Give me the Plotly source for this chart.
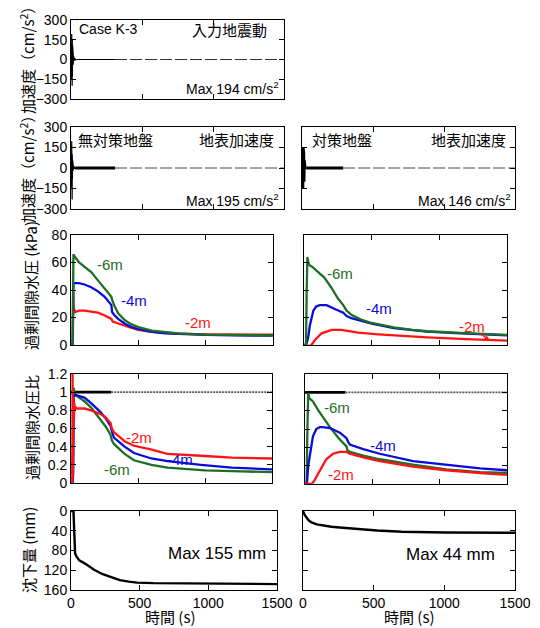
import plotly.graph_objects as go

W, H = 540, 628

# ---------------- data ----------------
# Row 1: input motion (cm/s2)
acc_in_t = [0, 1, 2, 3, 4, 5, 6, 7, 8, 9, 10, 11, 12, 13, 14, 15, 16, 17, 18, 19, 20, 22, 24, 26, 28, 30, 33, 36, 40]
acc_in_v = [0, 40, -70, 120, -150, 194, -185, 170, -200, 150, -130, 110, -90, 80, -60, 50, -40, 30, -25, 20, -15, 10, -8, 6, -5, 4, -3, 2, 0]
acc_in_near_t = [40, 310]
acc_in_far_t = [310, 1500]

# Row 2: surface acceleration (cm/s2)
acc_L_t = [0, 1, 2, 3, 4, 5, 6, 7, 8, 9, 10, 11, 12, 13, 14, 15, 16, 18, 20, 22, 24, 26, 28, 30]
acc_L_v = [0, 30, -60, 100, -140, 195, -150, 120, -230, 100, -80, 60, -50, 40, -30, 25, -20, 15, -10, 8, -6, 5, -3, 0]
acc_L_near_t = [30, 310]
acc_L_far_t = [310, 1500]
acc_R_t = [0, 3, 4, 6, 8, 10, 12, 14, 16, 18, 20, 22, 24, 26, 28, 30]
acc_R_v = [0, 146, -146, 146, -146, 146, -146, 146, -140, 120, -100, 60, -30, 15, -5, 0]
acc_R_near_t = [30, 290]
acc_R_far_t = [290, 1500]

# Row 3: excess pore water pressure (kPa), untreated ground
ewpL6_t = [0, 12, 18, 22, 30, 60, 100, 150, 200, 250, 300, 305, 320, 350, 400, 450, 500, 600, 700, 800, 1000, 1200, 1500]
ewpL6_v = [0, 0, 66, 65, 64, 60, 57, 53, 47, 41, 35, 33, 29, 23, 18, 15, 13, 10.5, 9.3, 8.5, 7.6, 7.2, 7]
ewpL4_t = [0, 12, 18, 22, 30, 60, 100, 150, 200, 250, 300, 305, 320, 350, 400, 450, 500, 600, 700, 800, 1000, 1200, 1500]
ewpL4_v = [0, 0, 44, 45, 45, 45, 44, 42, 39, 35, 29, 24, 22, 19, 15.5, 13, 11.5, 9.5, 8.5, 8, 7.3, 7, 6.8]
ewpL2_t = [0, 10, 14, 16, 18, 20, 22, 25, 30, 60, 100, 150, 200, 250, 300, 310, 350, 400, 450, 500, 600, 800, 1000, 1200, 1500]
ewpL2_v = [0, 0, 5, 37, 22, 28, 23, 26, 24, 25, 25, 24.5, 23.5, 21.5, 19, 17, 15.5, 14, 12.5, 11, 9.5, 8.3, 7.8, 7.6, 7.5]

# Row 3: excess pore water pressure (kPa), treated ground
ewpR6_t = [0, 15, 20, 25, 32, 40, 60, 100, 150, 200, 250, 290, 305, 315, 350, 417, 500, 664, 800, 911, 1158, 1500]
ewpR6_v = [0, 0, 40, 64, 60, 58, 57, 53.5, 49, 42, 34, 29, 27, 25, 22, 18.7, 16, 12.8, 11, 10, 8.8, 7.3]
ewpR4_t = [0, 15, 30, 44, 69, 90, 116, 167, 220, 290, 305, 315, 350, 417, 500, 664, 800, 911, 1158, 1500]
ewpR4_v = [0, 0, 5, 14.5, 25, 28, 29, 29, 26.5, 23.5, 22, 21, 19.5, 17.5, 15.5, 12.3, 10.8, 9.7, 8.5, 7]
ewpR2_t = [0, 40, 55, 81, 130, 204, 278, 327, 400, 549, 700, 911, 1200, 1500]
ewpR2_v = [-0.7, -0.7, 0, 3.6, 8.5, 11, 11, 10, 9, 7.8, 6.7, 5.6, 4.3, 3.2]

# Row 4: excess pore water pressure ratio, untreated ground
ratio_ref_near_t = [0, 300]
ratio_ref_far_t = [300, 1500]
ratL2_t = [0, 10, 12, 13, 14, 15, 16, 17, 18, 20, 22, 25, 28, 32, 40, 60, 100, 150, 220, 260, 295, 305, 320, 400, 470, 595, 720, 970, 1200, 1500]
ratL2_v = [0, 0, 1.25, 0.05, 1.0, 0.3, 1.25, 0.6, 0.95, 0.8, 0.7, 0.88, 0.8, 0.84, 0.82, 0.82, 0.82, 0.8, 0.76, 0.72, 0.66, 0.6, 0.56, 0.46, 0.41, 0.37, 0.32, 0.3, 0.28, 0.27]
ratL4_t = [0, 12, 14, 15, 17, 20, 25, 30, 50, 100, 150, 220, 260, 295, 305, 320, 400, 470, 600, 720, 970, 1200, 1500]
ratL4_v = [0, 0, 0.35, 0.05, 0.2, 0.97, 0.95, 0.97, 0.96, 0.94, 0.88, 0.78, 0.71, 0.63, 0.57, 0.5, 0.4, 0.33, 0.27, 0.24, 0.2, 0.17, 0.15]
ratL6_t = [0, 14, 18, 22, 30, 50, 100, 150, 220, 260, 295, 305, 320, 400, 470, 600, 720, 1000, 1200, 1500]
ratL6_v = [0, 0, 1.05, 1.02, 0.98, 0.95, 0.9, 0.83, 0.7, 0.62, 0.53, 0.47, 0.43, 0.32, 0.25, 0.2, 0.17, 0.14, 0.13, 0.12]

# Row 4: excess pore water pressure ratio, treated ground
ratR6_t = [0, 12, 18, 24, 30, 37, 59, 100, 150, 185, 250, 308, 315, 333, 432, 555, 802, 1048, 1300, 1500]
ratR6_v = [0, 0, 0.6, 1.0, 0.94, 0.93, 0.9, 0.8, 0.69, 0.62, 0.5, 0.41, 0.37, 0.35, 0.31, 0.27, 0.21, 0.16, 0.13, 0.12]
ratR4_t = [0, 14, 24, 37, 59, 84, 110, 133, 185, 259, 308, 320, 333, 432, 555, 802, 1048, 1300, 1500]
ratR4_v = [0, 0, 0.2, 0.31, 0.52, 0.6, 0.62, 0.62, 0.61, 0.56, 0.5, 0.46, 0.43, 0.38, 0.33, 0.25, 0.21, 0.17, 0.15]
ratR2_t = [0, 50, 70, 109, 158, 208, 259, 308, 333, 432, 555, 802, 1048, 1300, 1500]
ratR2_v = [0, 0, 0.04, 0.14, 0.27, 0.33, 0.35, 0.35, 0.33, 0.29, 0.25, 0.19, 0.15, 0.12, 0.1]

# Row 5: settlement (mm)
setL_t = [0, 18, 22, 25, 30, 42, 60, 105, 168, 231, 300, 356, 420, 482, 600, 732, 1000, 1500]
setL_v = [0, 0, 30, 77, 86, 93, 100, 107, 119, 128, 135, 140, 143, 145, 146, 146.5, 147, 148]
setR_t = [0, 3, 12, 37, 60, 98, 150, 200, 280, 400, 525, 700, 1012, 1500]
setR_v = [0, 3, 8, 18, 23, 27, 30, 32, 34, 37, 39.5, 42, 43.5, 44]

time_ticks = [0, 500, 1000, 1500]
acc_ticks = [-300, -150, 0, 150, 300]
ewp_ticks = [0, 20, 40, 60, 80]
ratio_ticks = [0, 0.2, 0.4, 0.6, 0.8, 1.0, 1.2]
ratio_ticklabels = ["0", "0.2", "0.4", "0.6", "0.8", "1", "1.2"]
set_ticks = [0, 40, 80, 120, 160]

# ---------------- layout helpers ----------------
LAT = "Liberation Sans, Arial, Noto Sans CJK JP, sans-serif"
JP = "Noto Sans CJK JP, Liberation Sans, sans-serif"
GREEN = "#1e6e24"
BLUE = "#0a0adc"
RED = "#ff1414"

# panel pixel boxes: (x0, x1, ytop, ybottom)
panels = {
    1: (71, 284, 20, 99),
    2: (71, 284, 127, 209), 3: (302, 515, 127, 209),
    4: (71, 273, 235, 345), 5: (304, 507, 235, 345),
    6: (71, 272, 374, 483), 7: (305, 507, 374, 484),
    8: (71, 277, 511, 590), 9: (303, 515, 511, 590),
}

fig = go.Figure()


def ax(n):
    return ("x" if n == 1 else f"x{n}"), ("y" if n == 1 else f"y{n}")


def line(n, t, v, color="black", width=2.3, dash=None):
    xa, ya = ax(n)
    fig.add_trace(go.Scatter(x=t, y=v, xaxis=xa, yaxis=ya, mode="lines",
                             line=dict(color=color, width=width, dash=dash),
                             showlegend=False, hoverinfo="skip"))


# row 1
line(1, acc_in_t, acc_in_v, width=1.2)
line(1, acc_in_near_t, [0] * len(acc_in_near_t), width=1.2)
line(1, acc_in_far_t, [0] * len(acc_in_far_t), color="#333", width=1, dash="12px,3px")
# row 2
line(2, acc_L_t, acc_L_v, width=1.2)
line(2, acc_L_near_t, [0] * len(acc_L_near_t), width=3)
line(2, acc_L_far_t, [0] * len(acc_L_far_t), color="#444", width=1, dash="12px,3px")
line(3, acc_R_t, acc_R_v, width=1.2)
line(3, acc_R_near_t, [0] * len(acc_R_near_t), width=3)
line(3, acc_R_far_t, [0] * len(acc_R_far_t), color="#444", width=1, dash="12px,3px")
# row 3
line(4, ewpL2_t, ewpL2_v, RED)
line(4, ewpL4_t, ewpL4_v, BLUE)
line(4, ewpL6_t, ewpL6_v, GREEN)
line(5, ewpR2_t, ewpR2_v, RED)
line(5, ewpR4_t, ewpR4_v, BLUE)
line(5, ewpR6_t, ewpR6_v, GREEN)
# row 4
for n in (6, 7):
    line(n, ratio_ref_near_t, [1] * len(ratio_ref_near_t), width=2.6)
    line(n, ratio_ref_far_t, [1] * len(ratio_ref_far_t), color="#555", width=1.6, dash="2px,1px")
line(6, ratL6_t, ratL6_v, GREEN)
line(6, ratL4_t, ratL4_v, BLUE)
line(6, ratL2_t, ratL2_v, RED)
line(7, ratR6_t, ratR6_v, GREEN)
line(7, ratR4_t, ratR4_v, BLUE)
line(7, ratR2_t, ratR2_v, RED)
# row 5
line(8, setL_t, setL_v, width=2.4)
line(9, setR_t, setR_v, width=2.4)

layout = dict(width=W, height=H, margin=dict(l=0, r=0, t=0, b=0, autoexpand=False),
              paper_bgcolor="white", plot_bgcolor="white",
              font=dict(family=LAT, size=14, color="black"))

yspec = {
    1: dict(range=[-300, 300], tickvals=acc_ticks),
    2: dict(range=[-300, 300], tickvals=acc_ticks),
    3: dict(range=[-300, 300], tickvals=acc_ticks, showticklabels=False),
    4: dict(range=[0, 80], tickvals=ewp_ticks),
    5: dict(range=[0, 80], tickvals=ewp_ticks, showticklabels=False),
    6: dict(range=[0, 1.2], tickvals=ratio_ticks, ticktext=ratio_ticklabels),
    7: dict(range=[0, 1.2], tickvals=ratio_ticks, ticktext=ratio_ticklabels, showticklabels=False),
    8: dict(range=[160, 0], tickvals=set_ticks),
    9: dict(range=[160, 0], tickvals=set_ticks, showticklabels=False),
}

common = dict(ticks="inside", ticklen=5, tickcolor="black", tickwidth=1,
              showline=True, linecolor="black", linewidth=1, mirror="ticks",
              showgrid=False, zeroline=False,
              tickfont=dict(family=LAT, size=14, color="black"))

for n, (x0, x1, yt, yb) in panels.items():
    xa, ya = ax(n)
    xname = "xaxis" if n == 1 else f"xaxis{n}"
    yname = "yaxis" if n == 1 else f"yaxis{n}"
    layout[xname] = dict(common, domain=[x0 / W, x1 / W], anchor=ya,
                         range=[0, 1500], tickvals=time_ticks,
                         showticklabels=(n in (8, 9)))
    layout[yname] = dict(common, domain=[1 - yb / H, 1 - yt / H], anchor=xa,
                         **yspec[n])

fig.update_layout(**layout)


def txt(x, y, s, size=14, color="black", xanchor="center", family=LAT, angle=0):
    fig.add_annotation(x=x / W, y=1 - y / H, xref="paper", yref="paper", text=s,
                       showarrow=False, xanchor=xanchor, yanchor="middle",
                       textangle=angle, font=dict(family=family, size=size, color=color))


# panel labels
txt(77, 29, "Case K-3", 14, xanchor="left")
txt(269, 30, "入力地震動", 15, xanchor="right", family=JP)
txt(281, 88, "Max 194 cm/s<sup>2</sup>", 14, xanchor="right")
txt(76, 140, "無対策地盤", 15, xanchor="left", family=JP)
txt(276, 140, "地表加速度", 15, xanchor="right", family=JP)
txt(281, 200, "Max 195 cm/s<sup>2</sup>", 14, xanchor="right")
txt(310, 140, "対策地盤", 15, xanchor="left", family=JP)
txt(508, 140, "地表加速度", 15, xanchor="right", family=JP)
txt(513, 200, "Max 146 cm/s<sup>2</sup>", 14, xanchor="right")

# series labels
txt(110, 264, "-6m", 15, GREEN)
txt(134, 301, "-4m", 15, BLUE)
txt(198, 322, "-2m", 15, RED)
txt(340, 273, "-6m", 15, GREEN)
txt(379, 308, "-4m", 15, BLUE)
txt(472, 326, "-2m", 15, RED)
txt(139, 437, "-2m", 15, RED)
txt(180, 460, "-4m", 15, BLUE)
txt(117, 469, "-6m", 15, GREEN)
txt(337, 407, "-6m", 15, GREEN)
txt(383, 445, "-4m", 15, BLUE)
txt(341, 474, "-2m", 15, RED)

# arrow pointing at -2m line in treated ground
fig.add_annotation(x=1370, y=3.7, xref="x5", yref="y5", ax=-11, ay=-7,
                   axref="pixel", ayref="pixel", text="", showarrow=True,
                   arrowhead=2, arrowsize=0.8, arrowwidth=1.2, arrowcolor=RED)

txt(268, 553, "Max 155 mm", 17, xanchor="right")
txt(497, 554, "Max 44 mm", 17, xanchor="right")

# axis titles
txt(27, 57, "加速度（cm/s<sup>2</sup>）", 15, angle=-90, family=JP)
txt(27, 166, "加速度（cm/s<sup>2</sup>）", 15, angle=-90, family=JP)
txt(30, 286, "過剰間隙水圧 (kPa)", 15, angle=-90, family=JP)
txt(31, 428, "過剰間隙水圧比", 15, angle=-90, family=JP)
txt(28, 550, "沈下量 (mm)", 15, angle=-90, family=JP)
txt(170, 616, "時間 (s)", 15, family=JP)
txt(409, 616, "時間 (s)", 15, family=JP)

fig.write_html("out.html", config={"displayModeBar": False},
               post_script="document.body.style.margin='0';document.body.style.overflow='hidden';")
